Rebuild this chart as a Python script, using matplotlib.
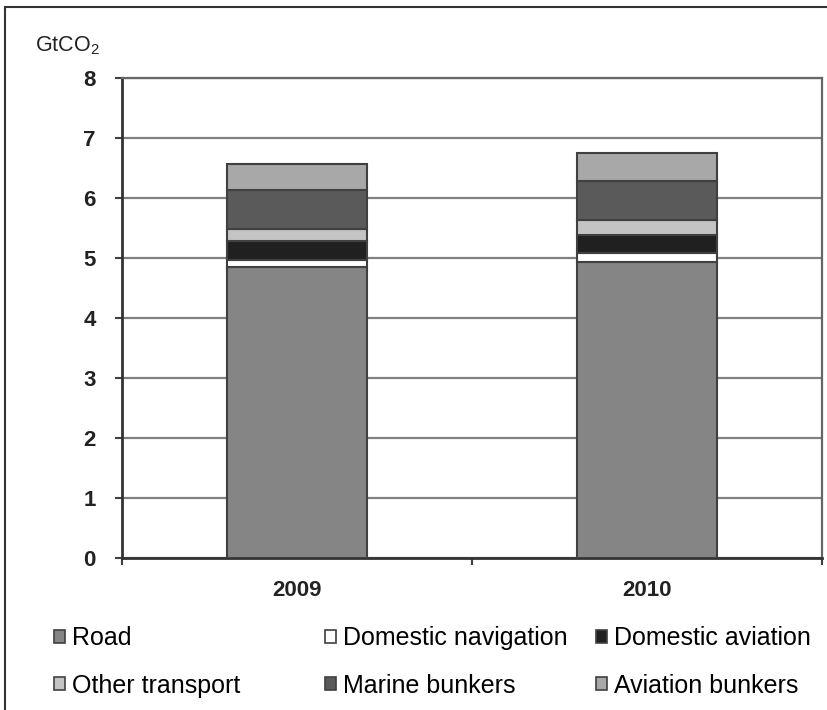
import matplotlib.pyplot as plt
from matplotlib.patches import Patch, Rectangle

plt.rcParams['font.family'] = ['Liberation Sans', 'DejaVu Sans']
plt.rcParams['mathtext.fontset'] = 'custom'
plt.rcParams['mathtext.rm'] = 'Liberation Sans'

years = ["2009", "2010"]
sectors = ["Road", "Domestic navigation", "Domestic aviation",
           "Other transport", "Marine bunkers", "Aviation bunkers"]
road = [4.85, 4.93]
dom_nav = [0.11, 0.14]
dom_av = [0.31, 0.31]
other = [0.21, 0.25]
marine = [0.65, 0.65]
aviation = [0.43, 0.47]
values = [road, dom_nav, dom_av, other, marine, aviation]
colors = ["#858585", "#ffffff", "#202020", "#c4c4c4", "#5a5a5a", "#a8a8a8"]

fig = plt.figure(figsize=(8.27, 7.10), dpi=100)
ax = fig.add_axes([122 / 827, 152 / 710, 700 / 827, 480.5 / 710])

x = range(len(years))
bottom = [0.0, 0.0]
for vals, col in zip(values, colors):
    ax.bar(x, vals, width=0.4, bottom=bottom, color=col,
           edgecolor="#404040", linewidth=1.5, zorder=3)
    bottom = [b + v for b, v in zip(bottom, vals)]

ax.set_xlim(-0.5, 1.5)
ax.set_ylim(0, 8)
ax.set_yticks(range(0, 9))
ax.yaxis.grid(True, color="#808080", linewidth=1.6, zorder=0)
ax.set_xticks([0, 1])
ax.set_xticklabels(years)
ax.set_xticks([-0.5, 0.5, 1.5], minor=True)
ax.tick_params(axis="x", which="major", length=0, pad=16)
ax.tick_params(axis="x", which="minor", length=5, width=1.5, color="#404040")
ax.tick_params(axis="y", length=5, width=1.5, color="#404040", pad=14)
for lab in ax.get_xticklabels() + ax.get_yticklabels():
    lab.set_fontsize(16)
    lab.set_fontweight("bold")
    lab.set_color("#222222")

for side in ["left", "bottom"]:
    ax.spines[side].set_color("#333333")
    ax.spines[side].set_linewidth(2)
ax.spines["right"].set_color("#666666")
ax.spines["right"].set_linewidth(1.6)
ax.spines["top"].set_color("#666666")
ax.spines["top"].set_linewidth(1.6)

fig.text(35 / 827, 1 - 46 / 710, r"GtCO$_2$", fontsize=15.5, va="center",
         ha="left", color="#222222")

# outer frame
fig.patches.append(Rectangle((5 / 827, -0.1), 1.2, 1.1 - 7 / 710,
                             transform=fig.transFigure, fill=False,
                             edgecolor="#333333", linewidth=1.5))

handles = [Patch(facecolor=c, edgecolor="#404040", linewidth=1.2) for c in colors]
col_x = [54 / 827, 325 / 827, 596 / 827]
for i, cx in enumerate(col_x):
    idx = [i, i + 3]
    fig.legend([handles[j] for j in idx], [sectors[j] for j in idx],
               loc="upper left", bbox_to_anchor=(cx, 1 - 626 / 710),
               frameon=False, fontsize=18, handlelength=0.42,
               handleheight=0.42, handletextpad=0.3, labelspacing=0.95,
               borderpad=0, borderaxespad=0)

fig.savefig("out.png", dpi=100)
